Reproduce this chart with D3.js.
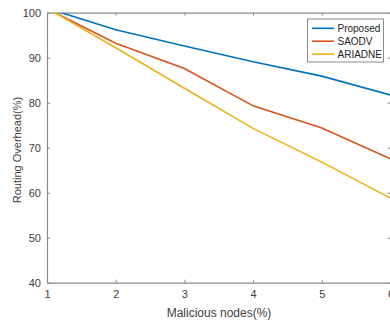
<!DOCTYPE html>
<html><head><meta charset="utf-8">
<script src="https://cdn.jsdelivr.net/npm/d3@7"></script>
<style>html,body{margin:0;padding:0;background:#fff;}svg{display:block;}</style>
</head><body>
<svg id="chart" width="390" height="320"></svg>
<script>
const xValues = [1, 2, 3, 4, 5, 6];
const proposed = [101, 96.2, 92.6, 89.1, 85.9, 81.7];
const saodv = [100.9, 93.2, 87.6, 79.3, 74.4, 67.5];
const ariadne = [101, 92.2, 83.2, 74.3, 66.8, 58.8];
const seriesNames = ["Proposed", "SAODV", "ARIADNE"];
const seriesColors = ["#0072BD", "#D95319", "#EDB120"];
const xTicks = [1, 2, 3, 4, 5, 6];
const yTicks = [40, 50, 60, 70, 80, 90, 100];
const xLabel = "Malicious nodes(%)";
const yLabel = "Routing Overhead(%)";

const svg = d3.select("#chart");
const m = {l: 47, r: 390.5, t: 12.7, b: 282.7};
const x = d3.scaleLinear().domain([1, 6]).range([m.l, m.r]);
const y = d3.scaleLinear().domain([40, 100]).range([m.b, m.t]);
const font = "Liberation Sans, Arial, sans-serif";
const axisColor = "#8a8a8a";
const textColor = "#404040";

svg.append("defs").append("clipPath").attr("id", "clip")
  .append("rect").attr("x", m.l).attr("y", m.t).attr("width", m.r - m.l).attr("height", m.b - m.t);

function styleAxis(g) {
  g.select(".domain").attr("stroke", axisColor).attr("stroke-width", 1.2);
  g.selectAll(".tick line").attr("stroke", axisColor);
  g.selectAll(".tick text").attr("fill", textColor).attr("font-family", font).attr("font-size", 11);
}

const gx = svg.append("g").attr("transform", `translate(0,${m.b})`)
  .call(d3.axisBottom(x).tickValues(xTicks).tickFormat(d3.format("d")).tickSizeInner(-3).tickSizeOuter(0).tickPadding(8));
styleAxis(gx);
const gxt = svg.append("g").attr("transform", `translate(0,${m.t})`)
  .call(d3.axisTop(x).tickValues(xTicks).tickFormat("").tickSizeInner(-3).tickSizeOuter(0));
styleAxis(gxt);
const gy = svg.append("g").attr("transform", `translate(${m.l},0)`)
  .call(d3.axisLeft(y).tickValues(yTicks).tickFormat(d3.format("d")).tickSizeInner(-3).tickSizeOuter(0).tickPadding(6));
styleAxis(gy);
const gyr = svg.append("g").attr("transform", `translate(${m.r},0)`)
  .call(d3.axisRight(y).tickValues(yTicks).tickFormat("").tickSizeInner(-3).tickSizeOuter(0));
styleAxis(gyr);

const line = d3.line().x((d, i) => x(xValues[i])).y(d => y(d));
[proposed, saodv, ariadne].forEach((s, i) => {
  svg.append("path").datum(s).attr("d", line).attr("fill", "none")
    .attr("stroke", seriesColors[i]).attr("stroke-width", 1.6)
    .attr("clip-path", "url(#clip)");
});

svg.append("text").attr("x", 219).attr("y", 316.5).attr("text-anchor", "middle")
  .attr("font-family", font).attr("font-size", 12).attr("fill", textColor).text(xLabel);
svg.append("text").attr("transform", `translate(21,150) rotate(-90)`).attr("text-anchor", "middle")
  .attr("font-family", font).attr("font-size", 11).attr("fill", textColor).text(yLabel);

const lg = svg.append("g");
lg.append("rect").attr("x", 307.5).attr("y", 19).attr("width", 76).attr("height", 43)
  .attr("fill", "#fff").attr("stroke", axisColor).attr("stroke-width", 1);
seriesNames.forEach((n, i) => {
  const yy = 28.3 + i * 12.9;
  lg.append("line").attr("x1", 312).attr("x2", 334).attr("y1", yy).attr("y2", yy)
    .attr("stroke", seriesColors[i]).attr("stroke-width", 1.6);
  lg.append("text").attr("x", 337.5).attr("y", yy + 3.6).attr("font-family", font)
    .attr("font-size", 10).attr("fill", "#222").text(n);
});
</script>
</body></html>
